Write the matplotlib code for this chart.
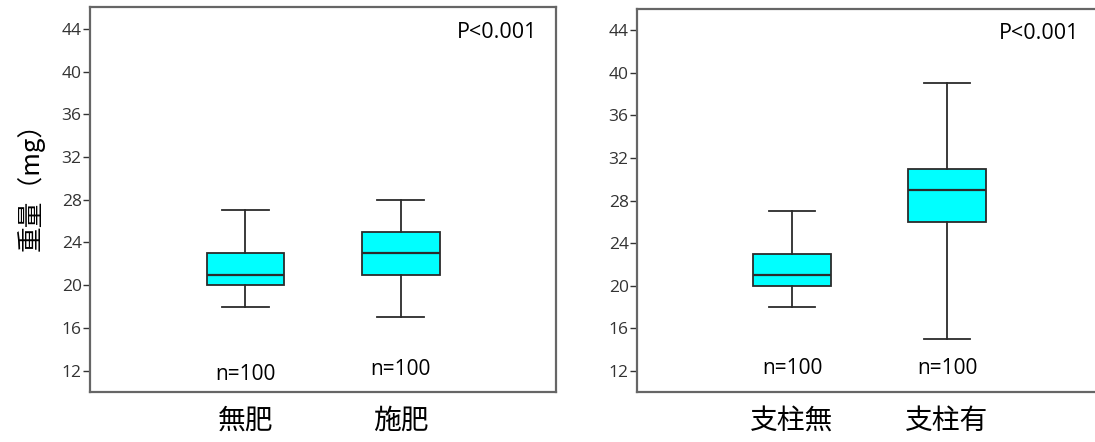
import matplotlib
matplotlib.use("Agg")
import matplotlib.pyplot as plt

plt.rcParams['font.family'] = ['Open Sans', 'Noto Sans CJK JP', 'DejaVu Sans']

# panel 1: fertiliser
labels_a = ['無肥', '施肥']
whislo_a = [18, 17]
q1_a = [20, 21]
med_a = [21, 23]
q3_a = [23, 25]
whishi_a = [27, 28]
n_a = ['n=100', 'n=100']
n_y_a = [11.6, 12.1]

# panel 2: stake
labels_b = ['支柱無', '支柱有']
whislo_b = [18, 15]
q1_b = [20, 26]
med_b = [21, 29]
q3_b = [23, 31]
whishi_b = [27, 39]
n_b = ['n=100', 'n=100']
n_y_b = [12.2, 12.2]

p_text = 'P<0.001'
yticks = [12, 16, 20, 24, 28, 32, 36, 40, 44]
ylabel = '重量（mg）'
cjk = ['Noto Sans CJK JP', 'DejaVu Sans']

fig = plt.figure(figsize=(10.95, 4.42), dpi=100)
ax1 = fig.add_axes([0.0822, 0.1131, 0.4256, 0.870])
ax2 = fig.add_axes([0.5817, 0.1131, 0.4247, 0.8665])


def draw(ax, labels, lo, q1, med, q3, hi, ns, ny):
    stats = []
    for i in range(len(labels)):
        stats.append(dict(whislo=lo[i], q1=q1[i], med=med[i], q3=q3[i],
                          whishi=hi[i], fliers=[], label=labels[i]))
    ax.bxp(stats, positions=[1, 2], widths=0.5, patch_artist=True,
           showfliers=False,
           boxprops=dict(facecolor='#00ffff', edgecolor='#2b2b2b', linewidth=1.3),
           medianprops=dict(color='#2b2b2b', linewidth=1.6),
           whiskerprops=dict(color='#2b2b2b', linewidth=1.3),
           capprops=dict(color='#2b2b2b', linewidth=1.3),
           capwidths=0.3)
    ax.set_xlim(0, 3)
    ax.set_ylim(10, 46)
    ax.set_yticks(yticks)
    ax.tick_params(axis='y', direction='out', length=5, width=1,
                   colors='#333333', labelsize=12.5, pad=1)
    ax.tick_params(axis='x', length=0, pad=10, colors='black')
    for t in ax.get_xticklabels():
        t.set_fontfamily(cjk)
        t.set_fontsize(20)
    for s in ax.spines.values():
        s.set_color('#666666')
        s.set_linewidth(1.6)
    for i, t in enumerate(ns):
        ax.text(i + 1, ny[i], t, ha='center', va='center', fontsize=15)
    ax.text(0.96, 0.935, p_text, transform=ax.transAxes, ha='right',
            va='center', fontsize=15.5)


draw(ax1, labels_a, whislo_a, q1_a, med_a, q3_a, whishi_a, n_a, n_y_a)
draw(ax2, labels_b, whislo_b, q1_b, med_b, q3_b, whishi_b, n_b, n_y_b)
ax2.texts[-1].set_position((0.95, 0.935))
ax1.set_ylabel(ylabel, fontsize=18.5, family=cjk)
ax1.yaxis.set_label_coords(-0.098, 0.55)

fig.savefig('out.png', dpi=100)
